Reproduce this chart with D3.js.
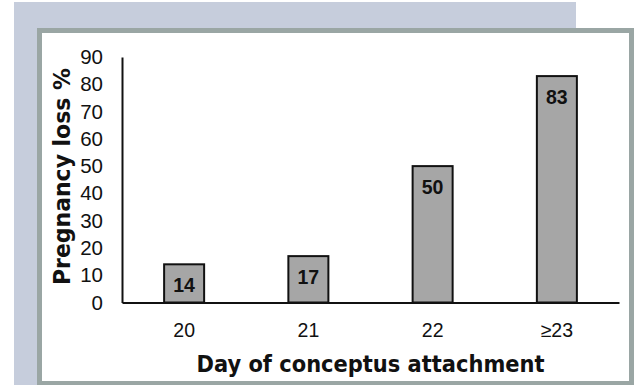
<!DOCTYPE html>
<html>
<head>
<meta charset="utf-8">
<script src="https://cdn.jsdelivr.net/npm/d3@7"></script>
<style>
  html, body { margin: 0; padding: 0; background: #fff; }
  svg { display: block; }
</style>
</head>
<body>
<svg id="chart" width="638" height="385"></svg>
<script>
// ---- data ----
const categories = ["20", "21", "22", "\u226523"];
const lossPercent = [14, 17, 50, 83];
const yTicks = [0, 10, 20, 30, 40, 50, 60, 70, 80, 90];
const yTitle = "Pregnancy loss %";
const xTitle = "Day of conceptus attachment";

// ---- drawing ----
const svg = d3.select("#chart");
const W = 638, H = 385;

// decorative frame
svg.append("rect").attr("x", 14).attr("y", 2).attr("width", 562).attr("height", H - 2)
  .attr("fill", "#c6cddc");
svg.append("rect").attr("x", 37).attr("y", 28).attr("width", 597).attr("height", H - 28)
  .attr("fill", "#9aa6a4");
svg.append("rect").attr("x", 42).attr("y", 33).attr("width", 587).attr("height", 348)
  .attr("fill", "#ffffff");

const x0 = 122, x1 = 619, yBase = 302.5, yTop = 57;
const x = d3.scaleBand().domain(categories).range([x0, x1])
  .paddingInner(0.678).paddingOuter(0.339);
const y = d3.scaleLinear().domain([0, 90]).range([yBase, yTop]);

const titleFont = "'DejaVu Sans', sans-serif";
const tickFont = "'Liberation Sans', Arial, sans-serif";

// bars
svg.append("g").selectAll("rect").data(lossPercent).join("rect")
  .attr("x", (d, i) => x(categories[i]))
  .attr("y", d => y(d))
  .attr("width", x.bandwidth())
  .attr("height", d => y(0) - y(d))
  .attr("fill", "#a6a6a6")
  .attr("stroke", "#111")
  .attr("stroke-width", 2);

// value labels
svg.append("g").selectAll("text").data(lossPercent).join("text")
  .attr("x", (d, i) => x(categories[i]) + x.bandwidth() / 2)
  .attr("y", d => y(d) + 28)
  .attr("text-anchor", "middle")
  .attr("font-family", tickFont)
  .attr("font-weight", "bold")
  .attr("font-size", 19.5)
  .attr("fill", "#111")
  .text(d => d);

// y axis
const yAxis = d3.axisLeft(y).tickValues(yTicks).tickSize(0).tickPadding(19);
const gy = svg.append("g").attr("transform", `translate(${x0},0)`).call(yAxis);
gy.attr("font-size", null).attr("font-family", null);
gy.select(".domain").attr("stroke", "#111").attr("stroke-width", 2);
gy.selectAll("text").attr("font-family", tickFont).attr("font-size", 20.5).attr("fill", "#111");

// x axis
const xAxis = d3.axisBottom(x).tickSize(0).tickPadding(20);
const gx = svg.append("g").attr("transform", `translate(0,${yBase})`).call(xAxis);
gx.attr("font-size", null).attr("font-family", null);
gx.select(".domain").attr("stroke", "#111").attr("stroke-width", 2);
gx.selectAll("text").attr("font-family", tickFont).attr("font-size", 19.5).attr("dy", "14px").attr("fill", "#111");

// axis titles
svg.append("text")
  .attr("x", (x0 + x1) / 2).attr("y", 371.5)
  .attr("text-anchor", "middle")
  .attr("font-family", titleFont).attr("font-weight", "bold").attr("font-size", 23)
  .attr("fill", "#111")
  .attr("textLength", 348).attr("lengthAdjust", "spacingAndGlyphs")
  .text(xTitle);

svg.append("text")
  .attr("transform", "translate(69.5,176.5) rotate(-90)")
  .attr("text-anchor", "middle")
  .attr("font-family", titleFont).attr("font-weight", "bold").attr("font-size", 23)
  .attr("fill", "#111")
  .attr("textLength", 217).attr("lengthAdjust", "spacingAndGlyphs")
  .text(yTitle);
</script>
</body>
</html>
